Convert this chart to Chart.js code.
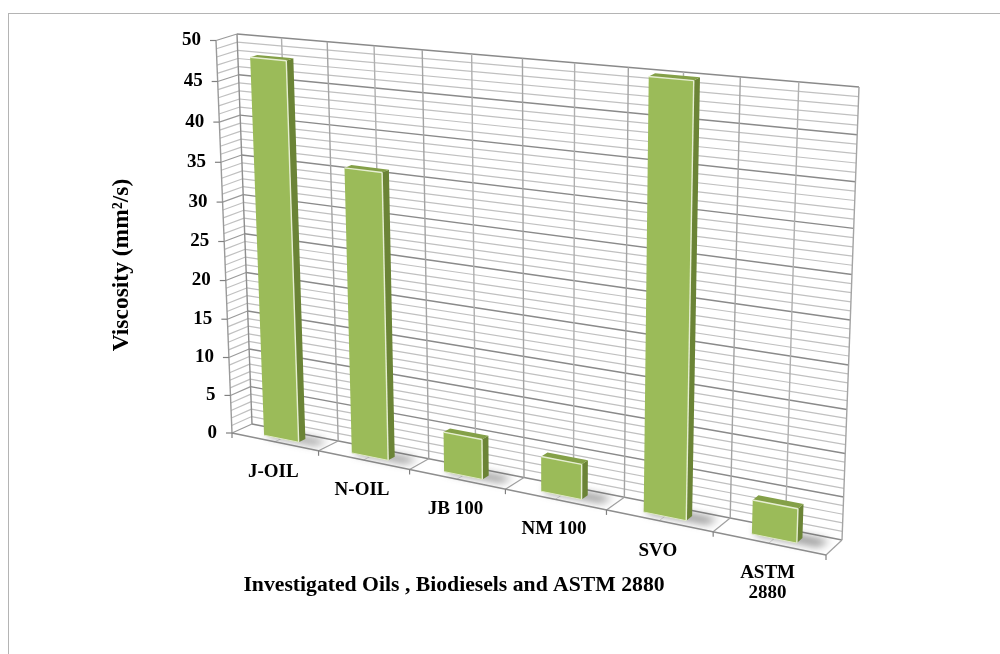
<!DOCTYPE html>
<html>
<head>
<meta charset="utf-8">
<title>Viscosity</title>
<script src="https://cdn.jsdelivr.net/npm/chart.js@4"></script>
<style>
html, body { margin: 0; padding: 0; background: #fff; overflow: hidden; }
#frame { position: fixed; left: 8px; top: 13px; width: 1100px; height: 800px; border: 1.5px solid #b4b4b4; }
#viscosity { position: fixed; left: 0; top: 0; filter: blur(0.35px); }
</style>
</head>
<body>
<div id="frame"></div>
<canvas id="viscosity" width="1000" height="654"></canvas>
<script>
const categories = ["J-OIL", "N-OIL", "JB 100", "NM 100", "SVO", ["ASTM", "2880"]];
const viscosity = [48, 35.8, 5, 4.3, 50, 4];
const yTitle = "Viscosity (mm²/s)";
const xTitle = "Investigated Oils , Biodiesels and ASTM 2880";

const font = 'bold 19px "Liberation Serif"';
const faceColor = "#9bbb59";
const sideColor = "#6b8436";
const topColor = "#84a048";

// corners of the slanted box: bottom-left, bottom-right, top-right, top-left
const backWall = [[252, 424], [842, 540], [859, 87], [237, 34]];
const frontWall = [[232, 433], [826, 555], [842, 98], [216, 40.5]];

function homography(q) {
	const [[x0, y0], [x1, y1], [x2, y2], [x3, y3]] = q;
	const sx = x0 - x1 + x2 - x3;
	const sy = y0 - y1 + y2 - y3;
	const dx1 = x1 - x2;
	const dx2 = x3 - x2;
	const dy1 = y1 - y2;
	const dy2 = y3 - y2;
	const det = dx1 * dy2 - dx2 * dy1;
	const g = (sx * dy2 - dx2 * sy) / det;
	const h = (dx1 * sy - sx * dy1) / det;
	return (u, v) => {
		const d = g * u + h * v + 1;
		return [
			((x1 - x0 + g * x1) * u + (x3 - x0 + h * x3) * v + x0) / d,
			((y1 - y0 + g * y1) * u + (y3 - y0 + h * y3) * v + y0) / d,
		];
	};
}
const toBack = homography(backWall);
const toFront = homography(frontWall);

// chart pixel + depth (0 front, 1 back) -> page pixel
function project(chart, px, py, depth) {
	const area = chart.chartArea;
	const u = (px - area.left) / area.width;
	const v = (area.bottom - py) / area.height;
	const f = toFront(u, v);
	const b = toBack(u, v);
	return [f[0] + (b[0] - f[0]) * depth, f[1] + (b[1] - f[1]) * depth];
}

function line(ctx, a, b, color, width) {
	ctx.strokeStyle = color;
	ctx.lineWidth = width;
	ctx.beginPath();
	ctx.moveTo(a[0], a[1]);
	ctx.lineTo(b[0], b[1]);
	ctx.stroke();
}

function poly(ctx, pts, color) {
	ctx.fillStyle = color;
	ctx.beginPath();
	pts.forEach((p, i) => (i ? ctx.lineTo(p[0], p[1]) : ctx.moveTo(p[0], p[1])));
	ctx.closePath();
	ctx.fill();
}

class Bar3dController extends Chart.BarController {
	draw() {
		const chart = this.chart;
		const ctx = chart.ctx;
		const near = 0.33;
		const far = 0.67;
		this.getMeta().data.forEach((bar) => {
			const l = bar.x - bar.width / 2;
			const r = bar.x + bar.width / 2;
			const p = (x, y, d) => project(chart, x, y, d);

			ctx.save();
			ctx.filter = "blur(4px)";
			poly(ctx, [p(l + bar.width * 0.1, bar.base, near), p(r + bar.width * 0.45, bar.base, near + 0.05), p(r + bar.width * 0.55, bar.base, far + 0.14), p(l - bar.width * 0.1, bar.base, far + 0.14)], "rgba(70,70,70,0.65)");
			ctx.restore();

			poly(ctx, [p(r, bar.base, near), p(r, bar.base, far), p(r, bar.y, far), p(r, bar.y, near)], sideColor);
			poly(ctx, [p(l, bar.y, near), p(r, bar.y, near), p(r, bar.y, far), p(l, bar.y, far)], topColor);
			poly(ctx, [p(l, bar.base, near), p(r, bar.base, near), p(r, bar.y, near), p(l, bar.y, near)], faceColor);

			line(ctx, p(l, bar.y, near), p(r, bar.y, near), "#e6eed2", 1.4);
			line(ctx, p(r, bar.y, near), p(r, bar.base, near), "#e6eed2", 1.4);
			line(ctx, p(l, bar.base, near), p(r, bar.base, near), "#dfe8c6", 1);
		});
	}
}
Bar3dController.id = "bar3d";
Bar3dController.defaults = Chart.BarController.defaults;
Chart.register(Bar3dController);

const boxPlugin = {
	id: "box",
	beforeDatasetsDraw(chart) {
		const ctx = chart.ctx;
		const { x, y } = chart.scales;
		const area = chart.chartArea;
		const step = x.getPixelForValue(1) - x.getPixelForValue(0);
		const p = (px, py, d) => project(chart, px, py, d);

		// horizontal lines on the left wall and the back wall
		y.ticks.forEach((tick) => {
			const py = y.getPixelForValue(tick.value);
			const major = tick.value % 5 === 0;
			const color = major ? "#8a8a8a" : "#c0c0c0";
			line(ctx, p(area.left, py, 0), p(area.left, py, 1), major ? "#9a9a9a" : "#c0c0c0", 1.2);
			line(ctx, p(area.left, py, 1), p(area.right, py, 1), color, major ? 1.4 : 1.2);
		});

		// vertical lines at each category edge and centre, carried over the floor
		categories.forEach((_, i) => {
			const mid = x.getPixelForValue(i);
			line(ctx, p(mid, area.top, 1), p(mid, area.bottom, 1), "#b0b0b0", 1.4);
			line(ctx, p(mid, area.bottom, 1), p(mid, area.bottom, 0), "#d4d4d4", 1);
			const edge = mid + step / 2;
			line(ctx, p(edge, area.top, 1), p(edge, area.bottom, 1), "#a4a4a4", 1.4);
			line(ctx, p(edge, area.bottom, 1), p(edge, area.bottom, 0), "#a0a0a0", 1.2);
		});

		// box outline
		line(ctx, p(area.left, area.top, 1), p(area.left, area.bottom, 1), "#8e8e8e", 1.4);
		line(ctx, p(area.left, area.top, 0), p(area.left, area.bottom, 0), "#9a9a9a", 1.4);
		line(ctx, p(area.left, area.bottom, 0), p(area.right, area.bottom, 0), "#8e8e8e", 1.4);

		// tick marks
		y.ticks.filter((t) => t.value % 5 === 0).forEach((tick) => {
			const a = p(area.left, y.getPixelForValue(tick.value), 0);
			line(ctx, a, [a[0] - 6, a[1]], "#808080", 1.2);
		});
		const first = x.getPixelForValue(0) - step / 2;
		[first, ...categories.map((_, i) => x.getPixelForValue(i) + step / 2)].forEach((edge) => {
			const a = p(edge, area.bottom, 0);
			line(ctx, a, [a[0], a[1] + 5], "#808080", 1.2);
		});
	},
	afterDraw(chart) {
		const ctx = chart.ctx;
		const { x, y } = chart.scales;
		const area = chart.chartArea;
		const step = x.getPixelForValue(1) - x.getPixelForValue(0);

		ctx.save();
		ctx.fillStyle = "#000";
		ctx.font = font;

		ctx.textAlign = "right";
		ctx.textBaseline = "middle";
		y.ticks.filter((t) => t.value % 5 === 0).forEach((tick) => {
			const a = project(chart, area.left, y.getPixelForValue(tick.value), 0);
			ctx.fillText(String(tick.value), a[0] - 15, a[1]);
		});

		ctx.textAlign = "center";
		categories.forEach((label, i) => {
			const mid = x.getPixelForValue(i);
			const a = project(chart, mid - step / 2, area.bottom, 0);
			const b = project(chart, mid + step / 2, area.bottom, 0);
			[].concat(label).forEach((text, row) => {
				ctx.fillText(text, (a[0] + b[0]) / 2 - 2, (a[1] + b[1]) / 2 + 30 + row * 20);
			});
		});

		ctx.font = 'bold 21.7px "Liberation Serif"';
		ctx.fillText(xTitle, 454, 585);

		ctx.font = 'bold 23.5px "Liberation Serif"';
		ctx.translate(122, 265);
		ctx.rotate(-Math.PI / 2);
		ctx.fillText(yTitle, 0, 0);
		ctx.restore();
	},
};

new Chart(document.getElementById("viscosity"), {
	type: "bar3d",
	plugins: [boxPlugin],
	data: {
		labels: categories,
		datasets: [
			{
				label: "Viscosity",
				data: viscosity,
				barPercentage: 0.4,
				categoryPercentage: 1,
			},
		],
	},
	options: {
		responsive: false,
		animation: false,
		layout: { padding: 0 },
		plugins: { legend: { display: false }, tooltip: { enabled: false } },
		scales: {
			x: { type: "category", offset: true, display: false },
			y: {
				type: "linear",
				display: false,
				min: 0,
				max: 50,
				ticks: { stepSize: 1, autoSkip: false },
			},
		},
	},
});
</script>
</body>
</html>
